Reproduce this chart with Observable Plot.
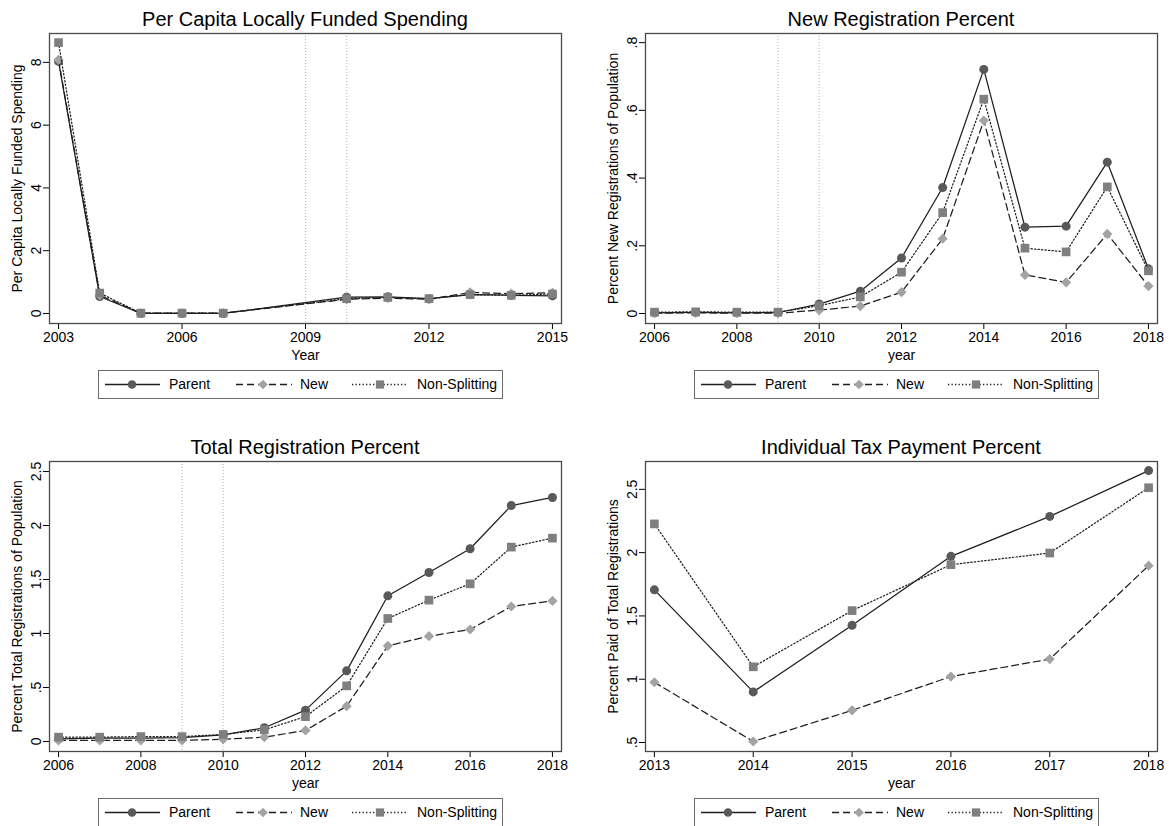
<!DOCTYPE html>
<html>
<head>
<meta charset="utf-8">
<script src="https://cdn.jsdelivr.net/npm/d3@7"></script>
<script src="https://cdn.jsdelivr.net/npm/@observablehq/plot@0.6"></script>
<style>
  html, body { margin: 0; padding: 0; background: #fff; overflow: hidden; }
  #page { position: relative; width: 1169px; height: 826px; overflow: hidden; background: #fff;
          font-family: "Liberation Sans", Arial, Helvetica, sans-serif; color: #000; }
  .title { position: absolute; width: 512px; text-align: center; font-size: 20px; line-height: 24px; white-space: nowrap; }
  .chart { position: absolute; }
  .legend { position: absolute; box-sizing: border-box; width: 405px; height: 29px;
            border: 1.3px solid #6b6b6b; background: #fff; }
  .legend svg { display: block; }
</style>
</head>
<body>
<div id="page"></div>
<script>
// Series names and shared styling
const seriesNames = ["Parent", "New", "Non-Splitting"];

// Per Capita Locally Funded Spending (no observations for 2008-2009)
const spendYears = [2003, 2004, 2005, 2006, 2007, 2010, 2011, 2012, 2013, 2014, 2015];
const spendParent = [8.03, 0.54, 0.00, 0.00, 0.00, 0.52, 0.53, 0.47, 0.60, 0.58, 0.56];
const spendNew = [8.08, 0.58, 0.01, 0.01, 0.01, 0.45, 0.49, 0.45, 0.67, 0.63, 0.66];
const spendNonSplit = [8.63, 0.65, 0.01, 0.01, 0.01, 0.47, 0.51, 0.47, 0.60, 0.58, 0.62];
const spendXTicks = [2003, 2006, 2009, 2012, 2015];
const spendYTicks = [0, 2, 4, 6, 8];

// New Registration Percent
const newRegYears = [2006, 2007, 2008, 2009, 2010, 2011, 2012, 2013, 2014, 2015, 2016, 2017, 2018];
const newRegParent = [0.002, 0.003, 0.002, 0.003, 0.028, 0.066, 0.164, 0.372, 0.721, 0.255, 0.258, 0.447, 0.132];
const newRegNew = [0.001, 0.002, 0.001, 0.001, 0.010, 0.022, 0.063, 0.221, 0.570, 0.114, 0.092, 0.235, 0.081];
const newRegNonSplit = [0.004, 0.005, 0.004, 0.004, 0.023, 0.049, 0.122, 0.298, 0.633, 0.193, 0.182, 0.374, 0.126];
const newRegXTicks = [2006, 2008, 2010, 2012, 2014, 2016, 2018];
const newRegYTicks = [0, 0.2, 0.4, 0.6, 0.8];

// Total Registration Percent
const totRegYears = [2006, 2007, 2008, 2009, 2010, 2011, 2012, 2013, 2014, 2015, 2016, 2017, 2018];
const totRegParent = [0.025, 0.030, 0.030, 0.035, 0.060, 0.127, 0.290, 0.654, 1.349, 1.565, 1.785, 2.185, 2.260];
const totRegNew = [0.010, 0.010, 0.010, 0.010, 0.020, 0.040, 0.102, 0.327, 0.886, 0.975, 1.037, 1.250, 1.302];
const totRegNonSplit = [0.040, 0.040, 0.045, 0.045, 0.065, 0.108, 0.230, 0.515, 1.139, 1.309, 1.460, 1.800, 1.883];
const totRegXTicks = [2006, 2008, 2010, 2012, 2014, 2016, 2018];
const totRegYTicks = [0, 0.5, 1, 1.5, 2, 2.5];

// Individual Tax Payment Percent
const taxYears = [2013, 2014, 2015, 2016, 2017, 2018];
const taxParent = [1.706, 0.900, 1.426, 1.971, 2.286, 2.648];
const taxNew = [0.976, 0.508, 0.754, 1.021, 1.159, 1.897];
const taxNonSplit = [2.227, 1.098, 1.542, 1.905, 1.997, 2.513];
const taxXTicks = [2013, 2014, 2015, 2016, 2017, 2018];
const taxYTicks = [0.5, 1, 1.5, 2, 2.5];

// Reform years marked by reference lines
const reformYears = [2009, 2010];

const FONT = "'Liberation Sans', Arial, Helvetica, sans-serif";
const LINE = "#1e1e1e";
const styles = [
  { symbol: "circle", fill: "#595959", r: 4.5, dash: null },
  { symbol: "diamond2", fill: "#a3a3a3", r: 4.6, dash: "7,4" },
  { symbol: "square", fill: "#7f7f7f", r: 4.9, dash: "1.3,2.2" }
];

// Stata-style number labels: drop the leading zero
const fmtNum = d => String(+d.toFixed(3)).replace(/^0\./, ".");

const page = document.getElementById("page");

function makePanel(cfg) {
  const { left, top, title, xLabel, yLabel, years, values, xDomain, yDomain, xTicks, yTicks, refs } = cfg;

  const t = document.createElement("div");
  t.className = "title";
  t.style.left = (left + 49) + "px";
  t.style.top = (top + 7) + "px";
  t.textContent = title;
  page.appendChild(t);

  const marks = [];
  if (refs.length) marks.push(Plot.ruleX(refs, { stroke: "#b5b5b5", strokeWidth: 1, strokeDasharray: "1,2" }));
  marks.push(Plot.frame({ stroke: "#4a4a4a", strokeWidth: 1.3 }));
  values.forEach((vals, i) => {
    const data = years.map((yr, j) => ({ year: yr, value: vals[j], series: seriesNames[i] }));
    const s = styles[i];
    marks.push(Plot.line(data, {
      x: "year", y: "value", stroke: LINE, strokeWidth: 1.25,
      strokeDasharray: s.dash == null ? undefined : s.dash
    }));
    marks.push(Plot.dot(data, { x: "year", y: "value", symbol: s.symbol, r: s.r, fill: s.fill, stroke: "none" }));
  });
  marks.push(Plot.text([yLabel], {
    text: d => d, frameAnchor: "left", dx: -32, rotate: -90,
    textAnchor: "middle", lineAnchor: "middle", fontSize: 14, fill: "#000"
  }));
  marks.push(Plot.text([xLabel], {
    text: d => d, frameAnchor: "bottom", dy: 32,
    textAnchor: "middle", lineAnchor: "middle", fontSize: 14, fill: "#000"
  }));

  const svg = Plot.plot({
    width: 573,
    height: 337,
    marginLeft: 49,
    marginRight: 12,
    marginTop: 5,
    marginBottom: 42,
    style: { fontFamily: FONT, fontSize: "14px", color: "#000", background: "transparent", overflow: "visible" },
    x: { domain: xDomain, ticks: xTicks, tickSize: 6, tickFormat: d => String(d), label: null },
    y: { domain: yDomain, ticks: yTicks, tickSize: 6, tickRotate: -90, tickFormat: fmtNum, label: null },
    marks
  });
  svg.classList.add("chart");
  svg.style.left = left + "px";
  svg.style.top = (top + 28) + "px";
  page.appendChild(svg);

  // legend box below the plot
  const lg = document.createElement("div");
  lg.className = "legend";
  lg.style.left = (left + 98) + "px";
  lg.style.top = (top + 370) + "px";
  page.appendChild(lg);
  const ls = d3.select(lg).append("svg").attr("width", 403).attr("height", 27);
  const items = [
    { x1: 6, x2: 61, mx: 33, tx: 70 },
    { x1: 137, x2: 193, mx: 164, tx: 201 },
    { x1: 253, x2: 309, mx: 281, tx: 318 }
  ];
  const symMap = { circle: d3.symbolCircle, diamond2: d3.symbolDiamond2, square: d3.symbolSquare };
  items.forEach((it, i) => {
    const s = styles[i];
    const cy = 13.5;
    ls.append("line")
      .attr("x1", it.x1).attr("x2", it.x2).attr("y1", cy).attr("y2", cy)
      .attr("stroke", LINE).attr("stroke-width", 1.3)
      .attr("stroke-dasharray", s.dash);
    const rr = s.r * 0.95;
    ls.append("path")
      .attr("d", d3.symbol(symMap[s.symbol], Math.PI * rr * rr)())
      .attr("transform", `translate(${it.mx},${cy})`)
      .attr("fill", s.fill);
    ls.append("text")
      .attr("x", it.tx).attr("y", cy).attr("dy", "0.35em")
      .attr("font-family", FONT).attr("font-size", 14).attr("fill", "#000")
      .text(seriesNames[i]);
  });
}

makePanel({
  left: 0, top: 0,
  title: "Per Capita Locally Funded Spending",
  xLabel: "Year", yLabel: "Per Capita Locally Funded Spending",
  years: spendYears, values: [spendParent, spendNew, spendNonSplit],
  xDomain: [2002.78, 2015.22], yDomain: [-0.32, 8.92],
  xTicks: spendXTicks, yTicks: spendYTicks, refs: reformYears
});

makePanel({
  left: 596, top: 0,
  title: "New Registration Percent",
  xLabel: "year", yLabel: "Percent New Registrations of Population",
  years: newRegYears, values: [newRegParent, newRegNew, newRegNonSplit],
  xDomain: [2005.78, 2018.22], yDomain: [-0.0295, 0.827],
  xTicks: newRegXTicks, yTicks: newRegYTicks, refs: reformYears
});

makePanel({
  left: 0, top: 428,
  title: "Total Registration Percent",
  xLabel: "year", yLabel: "Percent Total Registrations of Population",
  years: totRegYears, values: [totRegParent, totRegNew, totRegNonSplit],
  xDomain: [2005.78, 2018.22], yDomain: [-0.093, 2.593],
  xTicks: totRegXTicks, yTicks: totRegYTicks, refs: reformYears
});

makePanel({
  left: 596, top: 428,
  title: "Individual Tax Payment Percent",
  xLabel: "year", yLabel: "Percent Paid of Total Registrations",
  years: taxYears, values: [taxParent, taxNew, taxNonSplit],
  xDomain: [2012.91, 2018.09], yDomain: [0.429, 2.72],
  xTicks: taxXTicks, yTicks: taxYTicks, refs: []
});
</script>
</body>
</html>
